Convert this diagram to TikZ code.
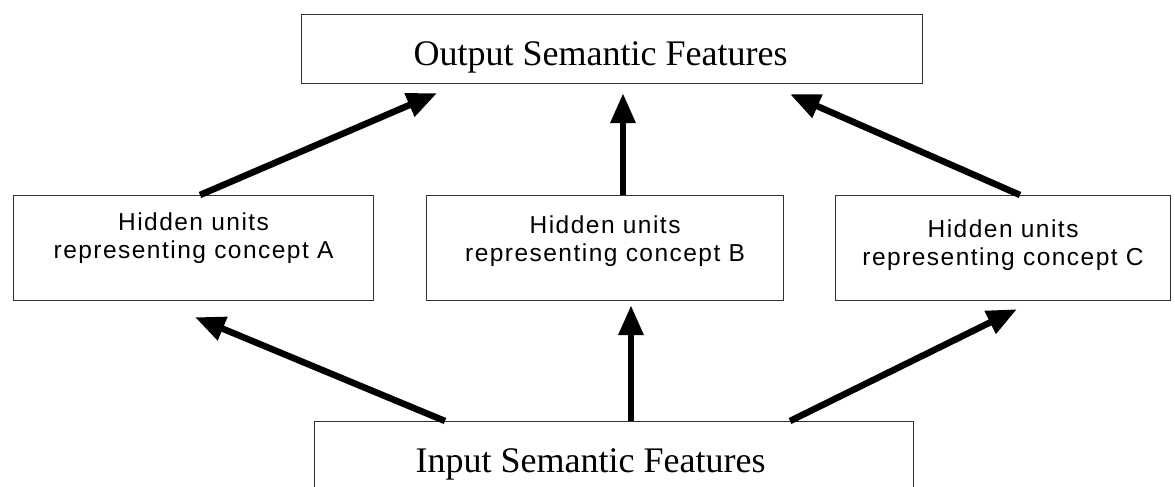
\documentclass[tikz,border=0pt]{standalone}
\usepackage{fontspec}
\setmainfont{Liberation Serif}
\newfontfamily\hidfont{Liberation Sans}[LetterSpace=6]
\usetikzlibrary{arrows.meta,calc}
\begin{document}
\begin{tikzpicture}[x=1pt,y=-1pt,
  box/.style={draw=black!80, line width=1.2pt, inner sep=0pt, anchor=north west},
  conn/.style={line width=6.5pt, -{Triangle[length=30pt,width=24pt]}},
  bigtext/.style={font=\fontsize{36}{40}\selectfont},
]
\clip (0,0) rectangle (1175,487);
\fill[white] (0,0) rectangle (1175,487);

% Output box
\node[box] (out) at (301,14)
  {\parbox[c][69pt][t]{621pt}{\fontsize{36}{40}\selectfont\hspace*{112pt}\rule{0pt}{51pt}Output Semantic Features}};

% Hidden boxes
\node[box] (A) at (13,195)
  {\parbox[c][105pt][t]{360pt}{\hidfont\fontsize{24.5}{27.5}\selectfont\centering\rule{0pt}{35pt}Hidden units\\representing concept A}};
\node[box] (B) at (426,195)
  {\parbox[c][105pt][t]{357pt}{\hidfont\fontsize{24.5}{27.5}\selectfont\centering\rule{0pt}{38pt}Hidden units\\representing concept B}};
\node[box] (C) at (835,195)
  {\parbox[c][105pt][t]{335pt}{\hidfont\fontsize{24.5}{27.5}\selectfont\centering\rule{0pt}{42pt}Hidden units\\representing concept C}};

% Input box
\node[box] (in) at (314,421)
  {\parbox[c][100pt][t]{599pt}{\fontsize{36}{40}\selectfont\hspace*{101pt}\rule{0pt}{51pt}Input Semantic Features}};

% Hidden -> output
\draw[conn] ($(A.north west)+(187,0)$) -- ($(out.south west)+(136,9)$);
\draw[conn] ($(B.north west)+(197,0)$) -- ($(out.south west)+(322,9)$);
\draw[conn] ($(C.north west)+(185,0)$) -- ($(out.south west)+(489,10)$);

% Input -> hidden
\draw[conn] ($(in.north west)+(131,0)$) -- ($(A.south west)+(182,16)$);
\draw[conn] ($(in.north west)+(317,0)$) -- ($(B.south west)+(205,4)$);
\draw[conn] ($(in.north west)+(476,0)$) -- ($(C.south west)+(182,8)$);
\end{tikzpicture}
\end{document}
